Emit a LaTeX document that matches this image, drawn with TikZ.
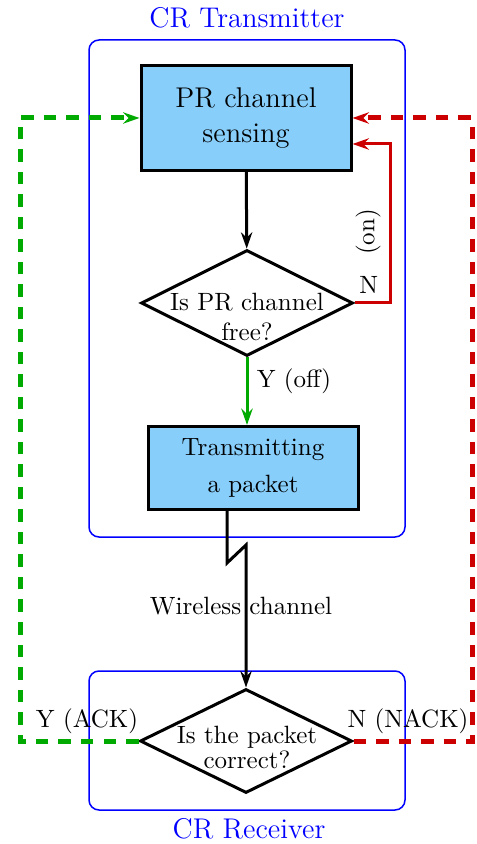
\documentclass[tikz,border=0pt]{standalone}
\usepackage{amsmath,amssymb}
\usepackage{tikz}
\usetikzlibrary{shapes,arrows.meta,calc}
\definecolor{boxblue}{RGB}{135,206,250}
\definecolor{ackgreen}{RGB}{0,170,0}
\definecolor{nackred}{RGB}{204,0,0}

\begin{document}
\begin{tikzpicture}[x=0.4pt,y=-0.4pt,
  tip/.style={-{Stealth[length=6.5pt,width=4.5pt]}},
  proc/.style={draw, line width=1.2pt, fill=boxblue, align=center,
    minimum width=84pt, inner sep=0pt},
  decide/.style={draw, diamond, line width=1.2pt, inner sep=0pt,
    minimum width=84.8pt, minimum height=42.4pt},
  frame/.style={draw=blue, line width=0.6pt, rounded corners=4pt},
  ack/.style={ackgreen, line width=2pt, dash pattern=on 5pt off 4pt},
  nack/.style={nackred, line width=2pt, dash pattern=on 5pt off 4pt},
  biglabel/.style={blue, font=\fontsize{11.4pt}{14pt}\selectfont}]
\useasboundingbox (0,0) rectangle (477,844);

% transmitter and receiver
\draw[frame] (89,40) rectangle (405,537);
\draw[frame] (89,671) rectangle (405,810);
\node[biglabel] (txname) at (247,18) {CR Transmitter};
\node[biglabel] (rxname) at (249,829) {CR Receiver};

% flow chart
\node[proc, minimum height=42pt, font=\fontsize{11.4pt}{14pt}\selectfont] (sense) at (246,118) {PR channel\\sensing};
\node[decide] (free) at (247,303) {};
\node[align=center, inner sep=0pt] (freetxt) at (247,317) {Is PR channel\\free?};
\node[proc, minimum height=33.2pt] (trans) at (253,468) {Transmitting\\[2.8pt]a packet};
\node[decide, minimum height=41.6pt] (check) at (246,741) {};
\node[align=center, inner sep=0pt] (checktxt) at (247,747) {Is the packet\\[-2pt]correct?};

\draw[line width=1.2pt, tip] (sense) -- (free);
\draw[ackgreen, line width=1.2pt, tip] (free.south) -- (trans.north -| free.south)
  node[pos=.35, right, black] {Y (off)};
\draw[nackred, line width=1.2pt, tip] (free.east) -- (390,303)
  node[pos=.4, above, black] {N} -- (390,144)
  -- (sense.east |- 0,144);
\node[rotate=90] (onlab) at (368,232) {(on)};

% wireless link
\coordinate (leave) at (227,510);
\draw[line width=1.2pt, tip] (leave) -- (227,563) -- (check.north |- 0,545) -- (check.north);
\node (chan) at (241,606) {Wireless channel};

% feedback
\draw[ack, tip] (check.west) -- (20,741) -- (20,118) -- (sense.west);
\draw[nack, tip] (check.east) -- (472,741) -- (472,118) -- (sense.east);
\node (acklab) at (87,721) {Y (ACK)};
\node (nacklab) at (408,721) {N (NACK)};
\end{tikzpicture}
\end{document}
